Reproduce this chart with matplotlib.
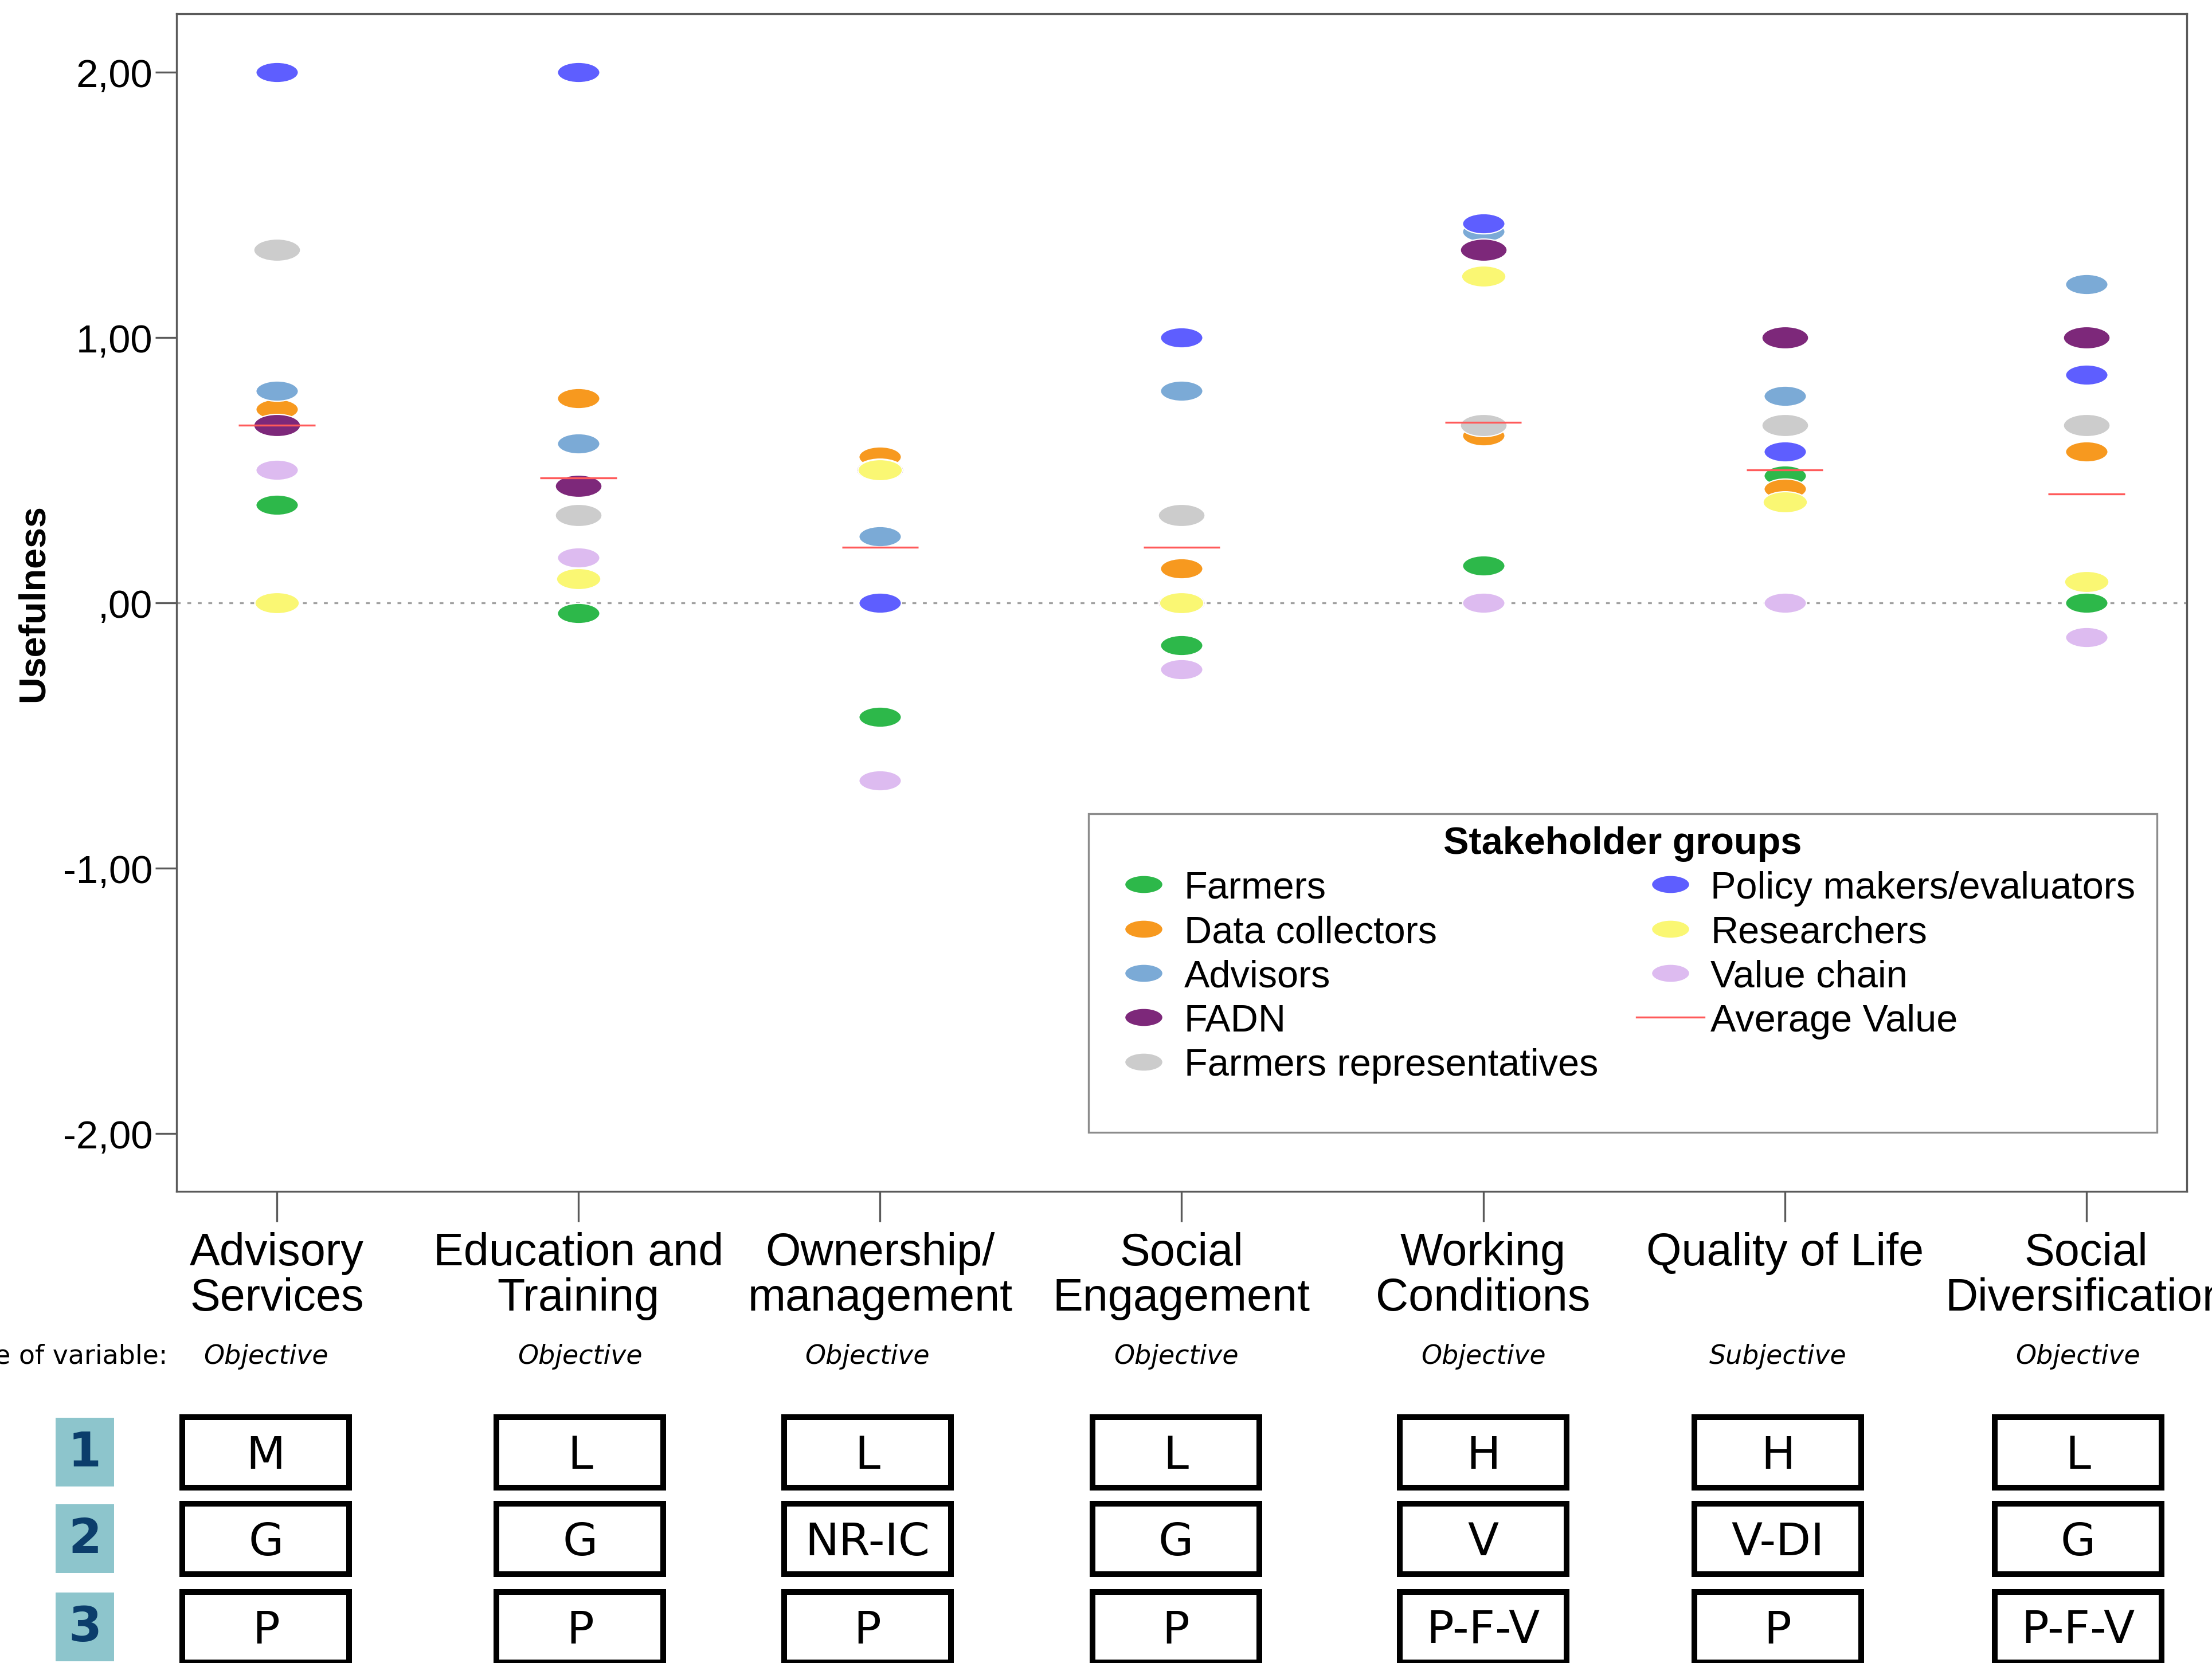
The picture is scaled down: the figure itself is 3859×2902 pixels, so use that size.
import numpy as np
import matplotlib
matplotlib.use("Agg")
import matplotlib.pyplot as plt
from matplotlib.path import Path
from matplotlib.transforms import Affine2D, blended_transform_factory
from matplotlib.lines import Line2D
from matplotlib.patches import Rectangle
from matplotlib.ticker import FuncFormatter

plt.rcParams['font.family'] = ['Liberation Sans', 'DejaVu Sans']

# indicators on the x axis
categories = ["Advisory\nServices", "Education and\nTraining", "Ownership/\nmanagement",
              "Social\nEngagement", "Working\nConditions", "Quality of Life",
              "Social\nDiversification"]
variable_type = ["Objective", "Objective", "Objective", "Objective", "Objective",
                 "Subjective", "Objective"]
row1 = ["M", "L", "L", "L", "H", "H", "L"]
row2 = ["G", "G", "NR-IC", "G", "V", "V-DI", "G"]
row3 = ["P", "P", "P", "P", "P-F-V", "P", "P-F-V"]

# mean usefulness score per stakeholder group
farmers = [0.37, -0.04, -0.43, -0.16, 0.14, 0.48, 0.00]
data_collectors = [0.73, 0.77, 0.55, 0.13, 0.63, 0.43, 0.57]
advisors = [0.80, 0.60, 0.25, 0.80, 1.40, 0.78, 1.20]
fadn = [0.67, 0.44, 0.50, 0.00, 1.33, 1.00, 1.00]
farmers_reps = [1.33, 0.33, np.nan, 0.33, 0.67, 0.67, 0.67]
policy_makers = [2.00, 2.00, 0.00, 1.00, 1.43, 0.57, 0.86]
researchers = [0.00, 0.09, 0.50, 0.00, 1.23, 0.38, 0.08]
value_chain = [0.50, 0.17, -0.67, -0.25, 0.00, 0.00, -0.13]
average = [0.67, 0.47, 0.21, 0.21, 0.68, 0.50, 0.41]

groups = ["Farmers", "Data collectors", "Advisors", "FADN", "Farmers representatives",
          "Policy makers/evaluators", "Researchers", "Value chain"]
group_values = [farmers, data_collectors, advisors, fadn, farmers_reps,
                policy_makers, researchers, value_chain]
group_colors = ["#2db84a", "#f7991f", "#7baad6", "#7d287a", "#cccccc",
                "#5e5eff", "#faf773", "#ddbbf0"]
marker_sizes = [17.8, 17.8, 17.8, 19.6, 19.6, 17.8, 18.6, 17.8]
AVG_RED = "#ff5a5a"

# flat ellipse marker, width = markersize
ELLIPSE = Path.unit_circle().transformed(Affine2D().scale(1.0, 1 / 2.1))


def comma_fmt(v, pos):
    s = f"{abs(v):.2f}".replace(".", ",")
    if s.startswith("0"):
        s = s[1:]
    return ("-" if v < 0 else "") + s


fig = plt.figure(figsize=(3859 / 300, 2903 / 300), dpi=300)
ax = fig.add_axes([0.07981, 0.28350, 0.90878, 0.70789])
x = np.arange(len(categories))

ax.axhline(0, color="#a0a0a0", lw=0.8, ls=(0, (2, 3.5)), zorder=1)
for vals, col, ms in zip(group_values, group_colors, marker_sizes):
    ax.plot(x, vals, ls="none", marker=ELLIPSE, ms=ms, mfc=col, mec="white",
            mew=0.5, zorder=3)
ax.hlines(average, x - 0.127, x + 0.127, color=AVG_RED, lw=0.8, zorder=4)

ax.set_xlim(-0.333, 6.333)
ax.set_ylim(-2.218, 2.220)
ax.set_yticks([-2, -1, 0, 1, 2])
ax.yaxis.set_major_formatter(FuncFormatter(comma_fmt))
ax.set_xticks(x, categories)
for lab in ax.get_xticklabels():
    lab.set_linespacing(1.08)

for sp in ax.spines.values():
    sp.set_color("#5a5a5a")
    sp.set_linewidth(0.8)
ax.tick_params(axis="x", length=12.7, width=0.8, color="#5a5a5a", pad=4, labelsize=19)
ax.tick_params(axis="y", length=9, width=0.8, color="#5a5a5a", pad=1, labelsize=16.5)
ax.set_ylabel("Usefulness", fontweight="bold", fontsize=15.5, labelpad=5)

# legend with its own frame
handles = [Line2D([], [], ls="none", marker=ELLIPSE, ms=16, mfc=c, mec="white", mew=0.5)
           for c in group_colors]
handles.append(Line2D([], [], color=AVG_RED, lw=0.8))
leg = ax.legend(handles, groups + ["Average Value"], ncol=2, loc="upper center",
                bbox_to_anchor=(0.7194, 0.3265), frameon=False,
                title="Stakeholder groups",
                title_fontproperties={"weight": "bold", "size": 16},
                fontsize=16, handlelength=1.77, handletextpad=0.17,
                columnspacing=1.0, labelspacing=0.23, borderpad=0)
ax.add_patch(Rectangle((0.4537, 0.0501), 0.5315, 0.2706, transform=ax.transAxes,
                       fill=False, ec="#8c8c8c", lw=0.8, zorder=5))

# table of indicator attributes below the axis
trans = blended_transform_factory(ax.transData, fig.transFigure)
box_shift = [-0.037, 0.005, -0.042, -0.019, 0.0, -0.023, -0.028]
fig.text(0.0757, 0.1843, "Type of variable:", ha="right", va="center",
         family="DejaVu Sans", fontsize=11)
for i, vt in enumerate(variable_type):
    ax.text(i + box_shift[i], 0.1843, vt, transform=trans, ha="center", va="center",
            style="italic", family="DejaVu Sans", fontsize=11)

row_centers = [0.12676, 0.07458, 0.02170]
box_h = 0.04237
box_w = 0.553
for r, (labels, yc) in enumerate(zip([row1, row2, row3], row_centers)):
    fig.patches.append(Rectangle((0.02514, yc - 0.02067), 0.02643, 0.04134,
                                 transform=fig.transFigure, fc="#8dc5cc", ec="none"))
    fig.text(0.03835, yc, str(r + 1), ha="center", va="center", family="DejaVu Sans",
             fontweight="bold", fontsize=20, color="#0b3d6b")
    for i, lab in enumerate(labels):
        cx = i + box_shift[i]
        ax.add_patch(Rectangle((cx - box_w / 2, yc - box_h / 2), box_w, box_h,
                               transform=trans, fill=False, ec="black", lw=2.4,
                               joinstyle="miter", clip_on=False))
        ax.text(cx, yc - 0.002, lab, transform=trans, ha="center", va="center",
                family="DejaVu Sans", fontsize=19)

fig.savefig("out.png", dpi=300)
